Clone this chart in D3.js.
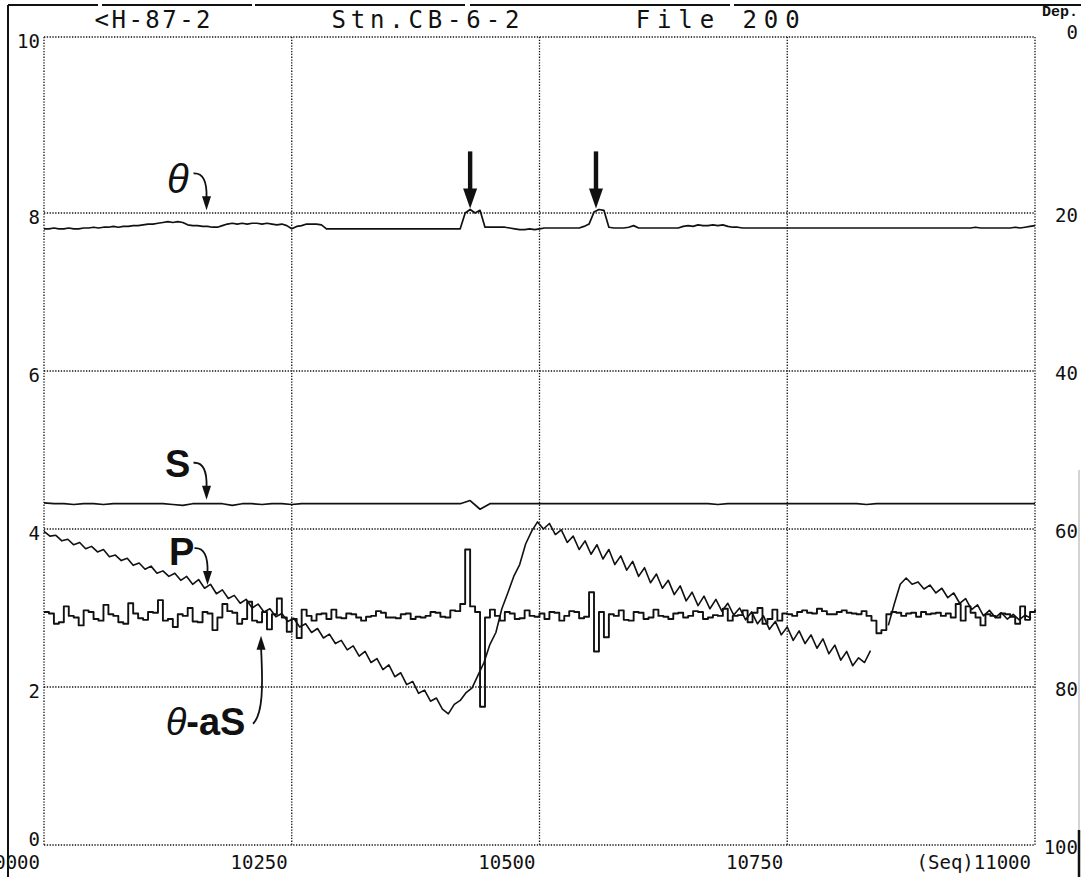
<!DOCTYPE html>
<html>
<head>
<meta charset="utf-8">
<script src="https://cdn.jsdelivr.net/npm/d3@7"></script>
<style>
  html, body { margin: 0; padding: 0; background: #fff; }
  svg { display: block; }
</style>
</head>
<body>
<svg id="chart" width="1081" height="877"></svg>
<script>
// ---- axis ticks and header texts ----
const seqTicks = [10000, 10250, 10500, 10750, 11000];
const seqTickLabels = ["10000", "10250", "10500", "10750", "(Seq)11000"];
const valueTicks = [0, 2, 4, 6, 8, 10];
const valueTickLabels = ["0", "2", "4", "6", "8", "10"];
const depthTicks = [100, 80, 60, 40, 20, 0];
const depthTickLabels = ["100", "80", "60", "40", "20", "0"];
const titleTexts = ["<H-87-2", "Stn.CB-6-2", "File 200"];
const titleSeq = [10051, 10290, 10597];   // left edge of each header text

// ---- theta (potential temperature), every 5 records from 10000 ----
const thetaStart = 10000, thetaStep = 5;
const thetaValues = [
  7.80,7.80,7.81,7.80,7.80,7.81,7.80,7.80,7.81,7.81,
  7.82,7.81,7.82,7.82,7.83,7.82,7.83,7.83,7.84,7.84,
  7.85,7.86,7.86,7.87,7.88,7.89,7.88,7.89,7.88,7.85,
  7.84,7.84,7.83,7.83,7.82,7.82,7.84,7.86,7.87,7.86,
  7.87,7.86,7.87,7.87,7.86,7.87,7.86,7.85,7.86,7.84,
  7.80,7.83,7.84,7.86,7.86,7.86,7.85,7.80,7.80,7.80,
  7.80,7.80,7.80,7.80,7.80,7.80,7.80,7.80,7.80,7.80,
  7.80,7.80,7.80,7.80,7.80,7.80,7.80,7.80,7.80,7.80,
  7.80,7.80,7.80,7.80,7.80,8.00,8.04,8.00,8.03,7.82,
  7.82,7.82,7.82,7.82,7.81,7.80,7.79,7.79,7.80,7.79,
  7.80,7.81,7.81,7.81,7.81,7.81,7.81,7.81,7.81,7.83,
  7.86,8.01,8.04,8.03,7.82,7.81,7.81,7.81,7.82,7.84,
  7.81,7.81,7.81,7.81,7.81,7.81,7.81,7.81,7.81,7.83,
  7.84,7.83,7.85,7.84,7.84,7.85,7.84,7.85,7.83,7.82,
  7.82,7.81,7.81,7.81,7.81,7.81,7.81,7.81,7.81,7.81,
  7.81,7.81,7.81,7.81,7.81,7.81,7.81,7.81,7.81,7.81,
  7.81,7.81,7.81,7.81,7.81,7.81,7.81,7.81,7.81,7.81,
  7.81,7.81,7.81,7.81,7.81,7.81,7.81,7.81,7.81,7.81,
  7.81,7.81,7.81,7.81,7.81,7.81,7.81,7.81,7.82,7.81,
  7.81,7.81,7.81,7.81,7.81,7.81,7.82,7.81,7.82,7.83,
  7.84
];

// ---- S (salinity trace), every 10 records ----
const salinityStart = 10000, salinityStep = 10;
const salinityValues = [
  4.33,4.32,4.32,4.31,4.32,4.32,4.31,4.32,4.32,4.32,
  4.32,4.32,4.32,4.31,4.30,4.32,4.32,4.32,4.32,4.30,
  4.32,4.32,4.31,4.32,4.32,4.31,4.32,4.32,4.32,4.32,
  4.32,4.32,4.32,4.32,4.32,4.32,4.32,4.32,4.32,4.32,
  4.32,4.32,4.32,4.36,4.25,4.32,4.32,4.32,4.32,4.32,
  4.32,4.32,4.32,4.32,4.32,4.32,4.32,4.32,4.32,4.32,
  4.32,4.32,4.32,4.32,4.32,4.32,4.32,4.32,4.31,4.32,
  4.32,4.32,4.32,4.32,4.32,4.32,4.32,4.32,4.32,4.32,
  4.32,4.32,4.32,4.31,4.32,4.32,4.32,4.32,4.32,4.32,
  4.32,4.32,4.32,4.32,4.32,4.32,4.32,4.32,4.32,4.32,
  4.32
];

// ---- P (pressure trace), every 6 records, two pieces ----
const pressureStart = 10000, pressureStep = 6;
const pressureValues = [
  3.97,3.91,3.92,3.85,3.87,3.80,3.83,3.75,3.78,3.71,
  3.74,3.65,3.67,3.60,3.63,3.54,3.57,3.49,3.53,3.44,
  3.47,3.40,3.44,3.35,3.40,3.30,3.36,3.25,3.30,3.18,
  3.23,3.12,3.16,3.06,3.11,3.00,3.05,2.95,2.99,2.89,
  2.93,2.83,2.87,2.76,2.80,2.69,2.74,2.62,2.67,2.55,
  2.59,2.47,2.52,2.39,2.45,2.31,2.36,2.22,2.28,2.13,
  2.18,2.03,2.07,1.92,1.96,1.82,1.86,1.72,1.66,1.78,
  1.83,1.93,1.99,2.15,2.31,2.54,2.69,2.99,3.19,3.40,
  3.55,3.81,3.97,4.09,4.00,4.07,3.93,3.99,3.83,3.91,
  3.74,3.85,3.68,3.80,3.62,3.74,3.55,3.66,3.48,3.59,
  3.40,3.51,3.32,3.43,3.25,3.35,3.17,3.28,3.09,3.20,
  3.03,3.15,2.99,3.11,2.96,3.06,2.91,3.00,2.85,2.95,
  2.80,2.90,2.73,2.83,2.66,2.76,2.59,2.71,2.55,2.66,
  2.49,2.61,2.42,2.53,2.34,2.45,2.27,2.37,2.31,2.46
];
const pressure2Start = 10852;
const pressure2Values = [
  2.78,3.05,3.30,3.38,3.30,3.33,3.24,3.29,3.19,3.25,
  3.13,3.19,3.06,3.12,2.98,3.04,2.90,2.97,2.88,2.94,
  2.86,2.92,2.85,2.91,2.87
];

// ---- theta - aS, every 5 records ----
const anomalyStart = 10000, anomalyStep = 5;
const anomalyValues = [
  2.95,2.93,2.80,2.82,3.02,2.90,2.88,2.78,2.97,2.95,
  2.86,2.84,3.04,2.92,2.90,2.82,2.80,3.06,2.93,2.87,
  2.85,2.95,2.94,3.10,2.84,2.86,2.76,2.92,2.90,3.00,
  2.83,2.82,2.95,2.93,2.72,2.88,3.05,2.96,2.94,2.80,
  2.86,3.08,2.84,2.82,2.95,2.73,2.92,3.12,2.88,2.70,
  2.86,2.62,2.98,2.90,2.84,2.92,2.93,2.86,2.98,2.88,
  2.87,2.93,2.92,2.88,2.84,2.89,2.90,2.96,2.94,2.88,
  2.88,2.87,2.92,2.93,2.86,2.89,2.88,2.90,2.95,2.94,
  2.89,2.88,2.97,2.96,3.05,3.74,3.02,2.95,1.75,2.88,
  2.98,2.90,2.84,2.95,2.93,2.86,2.87,2.97,2.90,2.89,
  2.93,2.86,2.95,2.94,2.84,2.90,2.96,2.95,2.87,2.89,
  3.20,2.45,2.95,2.63,2.92,2.90,2.97,2.85,2.84,2.95,
  2.94,2.86,2.88,2.98,2.90,2.89,2.86,2.93,2.94,2.88,
  2.90,2.96,2.95,2.86,2.88,2.91,2.90,2.99,2.84,2.90,
  2.91,2.97,2.82,2.94,3.00,2.80,2.86,2.98,2.84,2.93,
  2.92,2.90,2.95,2.97,2.94,2.93,2.99,2.96,2.92,2.92,
  2.95,2.97,2.94,2.93,2.92,2.96,2.90,2.84,2.68,2.72,
  2.92,2.95,2.94,2.90,2.93,2.94,2.89,2.95,2.92,2.93,
  2.94,2.90,2.93,2.88,3.05,2.84,3.02,2.94,2.88,2.78,
  2.92,2.90,2.88,2.93,2.92,2.89,2.80,3.02,2.85,2.95,
  2.98
];

// ---- curve labels: position in data units and where their arrows point ----
const curveLabels = [
  { name: "theta", seq: 10135, value: 8.37, tipSeq: 10164, tipValue: 8.03 },
  { name: "S",     seq: 10135, value: 4.82, tipSeq: 10164, tipValue: 4.37 },
  { name: "P",     seq: 10139, value: 3.71, tipSeq: 10165, tipValue: 3.29 }
];
const anomalyLabel = { seq: 10163, value: 1.56, tipSeq: 10219, tipValue: 2.65 };
const markerSeq = [10430, 10557];       // heavy down arrows over the theta bumps
const markerTipValue = 8.05, markerTopValue = 8.70;

// ---- layout ----
const svg = d3.select("#chart");
const W = 1081, H = 877;
const plot = { left: 44, right: 1035 };
// the plotter's vertical grid: each band is drawn at its own height
const gridRows = [845, 687, 529, 371, 213, 37];

const x = d3.scaleLinear().domain([10000, 11000]).range([plot.left, plot.right]);
const y = d3.scaleLinear().domain(valueTicks).range(gridRows);
const yDepth = d3.scaleLinear().domain(depthTicks).range(gridRows);

svg.append("rect").attr("width", W).attr("height", H).attr("fill", "#fff");

// outer frame of the plotter sheet
svg.append("line").attr("x1", 8).attr("x2", W).attr("y1", 5).attr("y2", 5)
  .attr("stroke", "#111").attr("stroke-width", 1.8)
  .attr("stroke-dasharray", "90,4,150,3,210,5,260,4,400");
svg.append("line").attr("x1", 8).attr("x2", 8).attr("y1", 5).attr("y2", H)
  .attr("stroke", "#111").attr("stroke-width", 2);
svg.append("line").attr("x1", 1079).attr("x2", 1079).attr("y1", 470).attr("y2", 830)
  .attr("stroke", "#c4c4c4").attr("stroke-width", 1.5);
svg.append("line").attr("x1", 1079).attr("x2", 1079).attr("y1", 830).attr("y2", H)
  .attr("stroke", "#111").attr("stroke-width", 2.5);

// dotted grid
const grid = svg.append("g").attr("stroke", "#111").attr("stroke-width", 1.3)
  .attr("stroke-dasharray", "1.3,1.5").attr("fill", "none");
grid.selectAll("line.h").data(valueTicks).join("line").attr("class", "h")
  .attr("x1", plot.left).attr("x2", plot.right)
  .attr("y1", d => y(d)).attr("y2", d => y(d));
grid.selectAll("line.v").data(seqTicks).join("line").attr("class", "v")
  .attr("y1", y(10)).attr("y2", y(0))
  .attr("x1", d => x(d)).attr("x2", d => x(d));

// tick labels in a plotter-like monospace
const mono = "'DejaVu Sans Mono', 'Liberation Mono', monospace";
const lab = svg.append("g").attr("font-family", mono).attr("fill", "#111");

lab.selectAll("text.left").data(valueTicks).join("text").attr("class", "left")
  .attr("x", plot.left - 4)
  .attr("y", d => y(d) + (d === 0 ? 1 : 11))
  .attr("text-anchor", "end").attr("font-size", 19)
  .text((d, i) => valueTickLabels[i]);

lab.selectAll("text.right").data(depthTicks).join("text").attr("class", "right")
  .attr("x", 1078)
  .attr("y", d => yDepth(d) + (d === 0 ? 2 : 9))
  .attr("text-anchor", "end").attr("font-size", 19)
  .text((d, i) => depthTickLabels[i]);

lab.append("text").attr("x", 1078).attr("y", 16).attr("text-anchor", "end")
  .attr("font-family", "'Liberation Mono', monospace").attr("font-weight", "bold")
  .attr("font-size", 15).text("Dep.");

lab.selectAll("text.bottom").data(seqTicks).join("text").attr("class", "bottom")
  .attr("x", d => x(d) - 4).attr("y", 869)
  .attr("text-anchor", "end").attr("font-size", 19)
  .text((d, i) => seqTickLabels[i]);

// header line
const headerWidths = [116, 188, 164];
lab.selectAll("text.title").data(titleTexts).join("text").attr("class", "title")
  .attr("x", (d, i) => x(titleSeq[i])).attr("y", 28)
  .attr("font-size", 24)
  .attr("textLength", (d, i) => headerWidths[i]).attr("lengthAdjust", "spacing")
  .text(d => d);

// ---- data traces ----
const series = [
  { start: thetaStart, step: thetaStep, values: thetaValues, curve: d3.curveLinear, w: 1.7 },
  { start: salinityStart, step: salinityStep, values: salinityValues, curve: d3.curveLinear, w: 1.7 },
  { start: pressureStart, step: pressureStep, values: pressureValues, curve: d3.curveLinear, w: 1.6 },
  { start: pressure2Start, step: pressureStep, values: pressure2Values, curve: d3.curveLinear, w: 1.6 },
  { start: anomalyStart, step: anomalyStep, values: anomalyValues, curve: d3.curveStepAfter, w: 1.9 }
];

const traces = svg.append("g").attr("fill", "none").attr("stroke", "#111")
  .attr("stroke-linejoin", "round");
series.forEach(s => {
  const line = d3.line()
    .x((v, i) => x(s.start + i * s.step))
    .y(v => y(v))
    .curve(s.curve);
  traces.append("path").attr("d", line(s.values)).attr("stroke-width", s.w);
});

// ---- annotations ----
const ann = svg.append("g").attr("fill", "#111").attr("stroke", "#111");

function arrowHead(g, tx, ty, dir) {   // dir: 1 = pointing down, -1 = pointing up
  g.append("path")
    .attr("d", `M${tx - 4.5},${ty - dir * 14} L${tx + 4.5},${ty - dir * 14} L${tx},${ty} Z`)
    .attr("stroke", "none");
}

curveLabels.forEach(c => {
  const lx = x(c.seq), ly = y(c.value);
  const tx = x(c.tipSeq), ty = y(c.tipValue);
  const t = ann.append("text").attr("x", lx).attr("y", ly + 13)
    .attr("text-anchor", "middle").attr("stroke", "none")
    .attr("font-family", "'Liberation Sans', Arial, sans-serif");
  if (c.name === "theta") {
    t.attr("font-style", "italic").attr("font-size", 40).text("\u03b8");
  } else {
    t.attr("font-weight", "bold").attr("font-size", 38).text(c.name);
  }
  ann.append("path")
    .attr("d", `M${tx - 13},${ty - 37} Q${tx + 1},${ty - 38} ${tx},${ty - 12}`)
    .attr("fill", "none").attr("stroke-width", 1.8);
  arrowHead(ann, tx, ty, 1);
});

{
  const lx = x(anomalyLabel.seq), ly = y(anomalyLabel.value);
  const tx = x(anomalyLabel.tipSeq), ty = y(anomalyLabel.tipValue);
  const t = ann.append("text").attr("x", lx).attr("y", ly + 13)
    .attr("text-anchor", "middle").attr("stroke", "none")
    .attr("font-family", "'Liberation Sans', Arial, sans-serif").attr("font-size", 38);
  t.append("tspan").attr("font-style", "italic").text("\u03b8");
  t.append("tspan").attr("font-weight", "bold").text("-aS");
  ann.append("path")
    .attr("d", `M${tx - 8},${ly + 2} C${tx + 2},${ly - 8} ${tx + 2},${ty + 50} ${tx},${ty + 12}`)
    .attr("fill", "none").attr("stroke-width", 1.8);
  arrowHead(ann, tx, ty, -1);
}

markerSeq.forEach(s => {
  const mx = x(s), tip = y(markerTipValue), top = y(markerTopValue);
  ann.append("rect").attr("x", mx - 2.2).attr("y", top).attr("width", 4.4)
    .attr("height", tip - top - 16).attr("stroke", "none");
  ann.append("path")
    .attr("d", `M${mx - 7},${tip - 20} L${mx + 7},${tip - 20} L${mx},${tip} Z`)
    .attr("stroke", "none");
});
</script>
</body>
</html>
